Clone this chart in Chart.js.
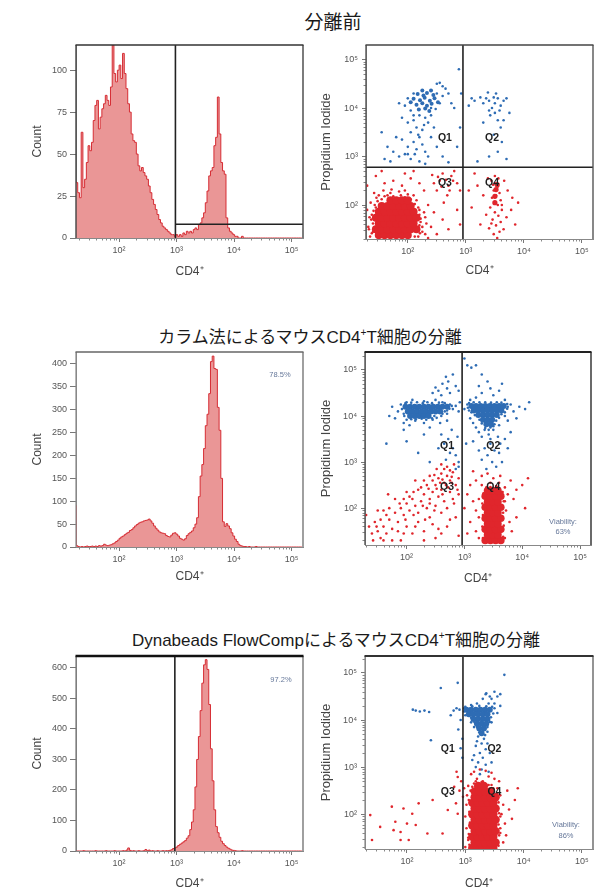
<!DOCTYPE html>
<html>
<head>
<meta charset="utf-8">
<script src="https://cdn.jsdelivr.net/npm/chart.js@4.4.1/dist/chart.umd.min.js"></script>
<style>
  body { margin: 0; background: #fff; width: 605px; height: 893px; position: relative; overflow: hidden; }
  canvas { position: absolute; }
  .ttl { position: absolute; transform: translateX(-50%); white-space: nowrap; line-height: 1.2;
         font-family: "Liberation Sans", "Noto Sans CJK JP", sans-serif; color: #1a1a1a; }
  .ttl sup { font-size: 0.6em; vertical-align: 0.7em; line-height: 0; }
</style>
</head>
<body>
<div class="ttl" style="left:333px;top:10px;font-size:19px;font-family:'Noto Sans CJK JP'">分離前</div>
<div class="ttl" style="left:310px;top:328px;font-size:17px">カラム法によるマウスCD4<sup>+</sup>T細胞の分離</div>
<div class="ttl" style="left:336px;top:631px;font-size:17px">Dynabeads FlowCompによるマウスCD4<sup>+</sup>T細胞の分離</div>

<canvas id="h1" width="310" height="250" style="left:0;top:30px"></canvas>
<canvas id="s1" width="305" height="249" style="left:300px;top:30px"></canvas>
<canvas id="h2" width="310" height="245" style="left:0;top:340px"></canvas>
<canvas id="s2" width="305" height="247" style="left:300px;top:340px"></canvas>
<canvas id="h3" width="310" height="252" style="left:0;top:640px"></canvas>
<canvas id="s3" width="305" height="252" style="left:300px;top:640px"></canvas>

<script>
// ---- axis ticks (log10 units) ----
const decadeTicks = [2, 3, 4, 5];
const decadeLabels = ['10²', '10³', '10⁴', '10⁵'];

// ---- histogram bins (log10 CD4 intensity) ----
const BIN_START = 1.25;
const BIN_WIDTH = 0.03;

const hist1YTicks = [0, 25, 50, 75, 100];
const hist1Counts = [
  34, 33, 27, 24, 63, 30, 35, 45, 55, 52,
  57, 70, 79, 82, 65, 72, 77, 80, 85, 82,
  79, 90, 115, 98, 93, 100, 103, 95, 110, 98,
  89, 80, 75, 62, 58, 57, 50, 43, 40, 42,
  39, 37, 35, 31, 27, 23, 20, 17, 14, 11,
  9, 7, 6, 5, 4, 3, 2, 2, 1, 2,
  1, 2, 1, 3, 2, 4, 3, 4, 3, 5,
  6, 5, 8, 9, 12, 15, 21, 28, 37, 40,
  42, 55, 60, 84, 62, 45, 40, 38, 12, 6,
  4, 3, 2, 1, 1, 0, 0, 1, 0, 0,
  0, 0, 0, 0, 0, 0, 0, 0, 0, 0,
  0, 0, 0, 0, 0, 0, 0, 0, 0, 0,
  0, 0, 0, 0, 0, 0, 0, 0, 0, 0,
  0, 0
];

const hist2YTicks = [0, 50, 100, 150, 200, 250, 300, 350, 400];
const hist2Counts = [
  91, 3, 1, 0, 1, 0, 1, 2, 1, 1,
  2, 1, 2, 1, 3, 2, 3, 6, 4, 3,
  4, 5, 7, 9, 12, 15, 19, 22, 24, 27,
  30, 32, 36, 38, 42, 46, 49, 52, 54, 55,
  57, 58, 59, 61, 57, 52, 46, 41, 37, 33,
  31, 30, 29, 25, 23, 22, 26, 30, 31, 28,
  24, 19, 17, 15, 18, 25, 29, 32, 35, 42,
  50, 64, 110, 155, 180, 215, 265, 290, 335, 405,
  417, 390, 388, 305, 255, 150, 55, 45, 51, 46,
  40, 31, 24, 17, 12, 6, 3, 2, 1, 1,
  0, 1, 0, 0, 0, 1, 0, 0, 0, 0,
  0, 0, 0, 0, 0, 0, 0, 0, 0, 0,
  0, 0, 0, 0, 0, 0, 0, 0, 0, 0,
  0, 0
];

const hist3YTicks = [0, 100, 200, 300, 400, 500, 600];
const hist3Counts = [
  0, 0, 0, 0, 0, 1, 0, 0, 0, 0,
  0, 0, 1, 0, 0, 0, 0, 0, 1, 0,
  0, 0, 0, 1, 0, 0, 0, 0, 1, 0,
  3, 10, 2, 0, 1, 0, 0, 1, 0, 0,
  1, 5, 1, 3, 0, 1, 0, 0, 1, 0,
  0, 1, 0, 1, 1, 2, 4, 8, 10, 13,
  18, 22, 26, 30, 34, 42, 50, 70, 95, 135,
  210, 300, 375, 460, 550, 610, 627, 595, 480, 335,
  230, 135, 80, 60, 45, 32, 24, 18, 13, 9,
  6, 3, 2, 1, 0, 0, 0, 1, 0, 0,
  0, 0, 0, 0, 0, 0, 0, 0, 0, 0,
  0, 0, 0, 0, 0, 0, 0, 0, 0, 0,
  0, 0, 0, 0, 0, 0, 0, 0, 0, 0,
  0, 0
];

// ---- scatter events: [log10 CD4, log10 Propidium Iodide] ----
// before separation
const s1RedCore = [
  [1.50,1.38],[1.60,1.38],[1.70,1.38],[1.80,1.38],[1.90,1.38],[2.00,1.38],
  [1.45,1.50],[1.55,1.50],[1.65,1.50],[1.75,1.50],[1.85,1.50],[1.95,1.50],[2.05,1.50],[2.15,1.50],
  [1.50,1.62],[1.60,1.62],[1.70,1.62],[1.80,1.62],[1.90,1.62],[2.00,1.62],[2.10,1.62],
  [1.45,1.74],[1.55,1.74],[1.65,1.74],[1.75,1.74],[1.85,1.74],[1.95,1.74],[2.05,1.74],[2.15,1.74],
  [1.50,1.86],[1.60,1.86],[1.70,1.86],[1.80,1.86],[1.90,1.86],[2.00,1.86],[2.10,1.86],
  [1.55,1.98],[1.65,1.98],[1.75,1.98],[1.85,1.98],[1.95,1.98],[2.05,1.98],
  [1.70,2.10],[1.80,2.10],[1.90,2.10],[2.00,2.10]
];
const s1RedMid = [[3.52,2.32],[3.50,2.18],[3.54,2.42],[3.50,2.05]];
const s1RedDots = [
  [1.35,1.35],[1.32,1.55],[1.38,1.80],[1.36,2.05],[1.42,2.25],[1.40,1.45],[1.45,1.95],[1.50,2.20],
  [1.58,2.30],[1.70,2.25],[1.85,2.28],[2.00,2.22],[2.15,2.10],[2.20,1.90],[2.22,1.65],[2.25,1.45],
  [2.18,1.35],[2.30,1.75],[2.35,2.00],[2.28,2.30],[2.40,1.55],[2.45,1.85],[1.60,2.45],[1.75,2.50],
  [1.90,2.40],[2.05,2.55],[2.20,2.45],[1.45,2.60],[1.55,2.70],[1.95,2.65],[2.10,2.70],[2.50,2.30],
  [2.55,2.50],[2.60,2.65],[2.42,2.62],[2.70,2.40],[2.75,2.60],[2.80,2.70],[2.68,2.20],[2.85,2.45],
  [2.90,2.30],[2.62,2.05],[2.50,1.40],[2.60,1.70],[2.70,1.50],[2.85,1.90],[2.90,1.60],[2.35,1.32],
  [1.30,1.90],[1.30,2.40],[2.52,2.58],[2.66,2.52],[2.72,2.30],[2.58,2.38],[2.45,2.45],[2.78,2.50],
  [1.38,1.42],[1.40,1.62],[1.37,1.70],[1.41,1.88],[1.43,2.00],[1.48,2.08],[1.55,2.12],[1.60,2.18],
  [1.65,2.20],[1.75,2.18],[1.88,2.20],[1.95,2.16],[2.05,2.12],[2.12,2.02],[2.18,1.95],[2.20,1.80],
  [2.22,1.72],[2.20,1.58],[2.21,1.42],[2.12,1.35],[2.25,1.55],[2.28,1.85],[2.32,1.62],[2.30,1.40],
  [1.34,1.75],[1.33,1.50],[1.46,2.15],[2.10,2.20],[1.72,2.32],[1.95,2.30],
  [3.50,2.45],[3.55,2.38],[3.48,2.30],[3.58,2.25],[3.52,2.20],[3.45,2.15],[3.60,2.10],[3.50,2.05],
  [3.55,2.00],[3.42,1.95],[3.62,1.90],[3.50,1.85],[3.56,1.78],[3.46,1.70],[3.60,1.65],[3.52,1.58],
  [3.40,1.52],[3.58,1.45],[3.48,1.40],[3.65,1.50],[3.35,1.80],[3.70,1.75],[3.30,2.20],[3.72,2.30],
  [3.38,2.55],[3.66,2.50],[3.25,1.60],[3.78,1.90],[3.20,2.40],[3.80,2.15],[3.10,1.95],[3.15,2.65],
  [3.50,2.60],[3.44,2.50],[3.56,2.55],[3.62,2.00],[3.53,2.32],[3.47,2.42],[3.85,1.60],[3.05,2.30],
  [3.90,2.05],[3.54,1.32],[3.44,1.62]
];
const s1BlueCore = [
  [2.17,4.29],[2.27,4.26],[2.33,4.31],[2.44,4.27],[2.10,4.19],[2.21,4.16],[2.29,4.21],[2.38,4.15],
  [2.46,4.20],[2.15,4.07],[2.25,4.10],[2.33,4.05],[2.41,4.09],[2.19,3.97],[2.30,3.99],[2.37,3.94],
  [2.52,4.12],[2.05,4.12],[2.25,4.36],[2.40,4.36]
];
const s1BlueDots = [
  [2.00,4.20],[1.95,4.05],[2.05,3.95],[2.10,4.30],[2.50,4.30],[2.55,4.10],[2.60,4.25],[2.48,3.98],
  [2.20,3.85],[2.10,3.75],[2.30,3.80],[2.40,3.85],[2.60,4.45],[2.65,4.40],[2.50,4.50],[2.55,4.52],
  [2.70,4.30],[2.75,4.10],[2.80,4.00],[2.15,3.60],[2.05,3.50],[2.25,3.55],[2.20,3.40],[2.10,3.30],
  [2.00,3.20],[1.90,3.35],[2.15,3.15],[2.25,3.25],[2.30,3.10],[1.95,3.05],[2.05,2.95],[1.85,3.00],
  [2.20,2.90],[2.35,3.00],[1.75,3.10],[1.70,2.90],[1.60,2.95],[1.65,3.20],[1.80,3.40],[1.55,3.50],
  [2.40,3.40],[2.45,3.60],[2.50,3.20],[2.60,3.00],[2.70,2.88],[2.85,3.20],[2.90,3.60],[2.92,4.30],
  [2.88,4.80],[2.00,3.70],[1.90,3.80],[2.35,3.70],[1.85,4.10],[2.10,3.85],[2.40,4.00],[2.28,3.65],
  [2.18,3.45],[2.12,3.05],[2.00,3.05],[2.30,2.85],
  [3.40,4.15],[3.50,4.10],[3.45,4.00],[3.55,4.20],[3.35,4.20],[3.60,4.05],[3.50,3.90],[3.42,3.85],
  [3.58,3.95],[3.65,4.15],[3.30,4.10],[3.25,4.22],[3.10,4.20],[3.15,4.15],[3.70,4.20],[3.55,3.75],
  [3.60,3.60],[3.48,3.45],[3.62,3.30],[3.55,3.10],[3.40,3.00],[3.20,2.90],[3.70,2.95],[3.05,4.05],
  [3.75,3.90],[3.52,4.30],[3.38,4.32],[3.48,4.22],[3.40,3.95],[3.30,3.70],[3.65,3.75]
];

// column-based separation
const s2RedCore = [
  [3.36,1.30],[3.45,1.30],[3.54,1.30],[3.63,1.30],
  [3.40,1.42],[3.49,1.42],[3.58,1.42],
  [3.36,1.54],[3.45,1.54],[3.54,1.54],[3.63,1.54],
  [3.40,1.66],[3.49,1.66],[3.58,1.66],
  [3.36,1.78],[3.45,1.78],[3.54,1.78],[3.63,1.78],
  [3.40,1.90],[3.49,1.90],[3.58,1.90],
  [3.36,2.02],[3.45,2.02],[3.54,2.02],[3.63,2.02],
  [3.40,2.14],[3.49,2.14],[3.58,2.14],
  [3.36,2.26],[3.45,2.26],[3.54,2.26],[3.63,2.26],
  [3.40,2.38],[3.49,2.38],[3.58,2.38]
];
const s2RedDots = [
  [2.60,2.75],[2.70,2.70],[2.75,2.60],[2.80,2.78],[2.65,2.55],[2.55,2.65],[2.50,2.50],[2.60,2.40],
  [2.72,2.45],[2.85,2.50],[2.90,2.65],[2.45,2.35],[2.35,2.50],[2.40,2.20],[2.55,2.25],[2.30,2.30],
  [2.20,2.40],[2.25,2.15],[2.10,2.20],[2.15,2.05],[2.00,2.10],[2.05,1.95],[1.90,2.00],[1.95,1.85],
  [2.20,1.90],[2.35,2.00],[2.50,2.05],[2.65,2.15],[2.80,2.20],[2.90,2.30],[1.80,1.90],[1.85,1.70],
  [1.70,1.75],[1.75,1.55],[1.60,1.60],[1.65,1.45],[1.50,1.50],[1.55,1.35],[1.45,1.70],[1.40,1.45],
  [1.35,1.60],[1.30,1.85],[2.00,1.60],[2.20,1.70],[2.40,1.80],[2.60,1.90],[2.10,1.45],[2.30,1.50],
  [1.90,1.30],[2.70,1.60],[2.85,1.80],[2.50,1.35],[2.00,2.35],[1.80,2.20],[2.45,2.60],[2.70,2.90],
  [2.60,2.95],[2.82,2.95],[2.40,2.70],[2.15,2.60],[1.60,1.95],[2.75,2.35],[2.55,1.55],[2.30,1.30],
  [1.75,1.30],[2.90,1.40],[2.62,2.62],[2.68,2.50],[2.52,2.42],[2.78,2.68],[2.58,2.55],[2.48,2.72],
  [2.30,2.60],[2.25,2.45],[2.12,2.35],[2.05,2.25],[1.95,2.20],[1.88,2.10],[1.70,2.00],[1.65,1.85],
  [1.55,1.75],[1.48,1.60],[1.42,1.30],[1.60,1.30],[1.85,1.50],[1.98,1.75],[2.12,1.85],[2.28,2.05],
  [2.40,2.10],[2.62,2.30],[2.78,2.55],[2.88,2.40],[2.82,2.10],[2.70,2.00],[2.48,1.95],[2.32,1.75],
  [2.15,1.60],[1.95,1.45],[2.60,1.45],[2.75,1.75],[2.45,1.65],[1.68,2.30],[1.50,1.95],[2.38,2.42],
  [2.65,2.85],[2.52,2.85],[2.75,2.82],
  [3.32,1.35],[3.31,1.60],[3.32,1.85],[3.31,2.10],[3.33,2.32],[3.67,1.38],[3.68,1.62],[3.67,1.90],
  [3.68,2.15],[3.66,2.35],[3.45,2.46],[3.55,2.48],[3.38,2.45],
  [3.10,2.50],[3.20,2.60],[3.30,2.70],[3.40,2.75],[3.50,2.65],[3.60,2.55],[3.70,2.45],[3.75,2.30],
  [3.80,2.60],[3.85,2.20],[3.90,2.40],[4.00,2.50],[4.10,2.65],[3.05,2.30],[3.15,2.15],[3.20,1.95],
  [3.25,1.80],[3.10,1.70],[3.20,1.50],[3.25,1.35],[3.72,1.95],[3.78,1.70],[3.82,1.50],[3.70,1.35],
  [3.90,1.80],[4.05,2.00],[3.00,2.00],[3.05,1.45],[3.30,2.50],[3.65,2.35],[3.25,2.20],[3.70,2.15],
  [3.45,2.55],[3.58,2.45],[3.15,2.80],[3.62,2.70]
];
const s2BlueCore = [
  [1.98,4.20],[2.06,4.20],[2.14,4.20],[2.22,4.20],[2.30,4.20],[2.38,4.20],[2.46,4.20],[2.54,4.20],[2.62,4.20],[2.70,4.20],
  [2.02,4.10],[2.10,4.10],[2.18,4.10],[2.26,4.10],[2.34,4.10],[2.42,4.10],[2.50,4.10],[2.58,4.10],
  [2.06,4.00],[2.14,4.00],[2.22,4.00],[2.30,4.00],[2.38,4.00],
  [3.12,4.22],[3.20,4.22],[3.28,4.22],[3.36,4.22],[3.44,4.22],[3.52,4.22],[3.60,4.22],[3.68,4.22],
  [3.16,4.12],[3.24,4.12],[3.32,4.12],[3.40,4.12],[3.48,4.12],[3.56,4.12],[3.64,4.12],
  [3.24,4.02],[3.32,4.02],[3.40,4.02],[3.48,4.02],[3.56,4.02],
  [3.32,3.92],[3.40,3.92],[3.48,3.92],
  [3.38,3.82],[3.46,3.82]
];
const s2BlueDots = [
  [1.92,4.15],[1.95,4.05],[1.98,4.28],[2.08,4.29],[2.18,4.30],[2.28,4.28],[2.36,4.30],[2.44,4.28],
  [2.56,4.29],[2.66,4.28],[2.74,4.16],[2.78,4.22],[2.66,4.10],[2.62,4.05],[2.48,4.00],[2.44,3.95],
  [2.34,3.92],[2.26,3.94],[2.16,3.93],[2.08,3.93],[2.00,3.92],[1.96,4.00],[2.52,3.96],[2.70,4.12],
  [3.06,4.18],[3.08,4.28],[3.16,4.30],[3.26,4.30],[3.36,4.30],[3.46,4.29],[3.56,4.30],[3.64,4.29],
  [3.74,4.26],[3.74,4.16],[3.70,4.08],[3.64,4.04],[3.60,3.96],[3.55,3.90],[3.52,3.82],[3.45,3.75],
  [3.36,3.74],[3.30,3.84],[3.26,3.92],[3.18,4.02],[3.12,4.08],[3.08,4.12],[3.50,3.78],[3.42,3.70],
  [1.85,4.10],[1.90,4.25],[1.80,3.95],[1.95,3.85],[2.05,3.80],[2.15,3.90],[2.30,3.85],[2.45,3.92],
  [2.60,4.00],[2.70,4.05],[2.75,4.25],[2.80,4.15],[2.85,4.22],[2.90,4.10],[2.92,4.30],[2.70,3.90],
  [2.58,3.85],[2.10,4.35],[2.30,4.32],[2.50,4.35],[2.62,4.30],[2.00,4.30],[1.75,4.20],[1.70,4.00],
  [1.95,3.70],[2.40,3.75],[2.55,4.55],[2.62,4.70],[2.70,4.60],[2.75,4.50],[2.85,4.65],[2.68,4.85],
  [2.80,4.90],[2.60,4.45],[2.45,4.50],[2.90,4.55],[2.72,4.75],[2.50,4.62],[2.60,3.60],[2.65,3.40],
  [2.72,3.50],[2.80,3.30],[2.85,3.15],[2.90,3.00],[2.75,3.20],[2.68,3.05],[2.85,2.85],[2.90,2.90],
  [2.55,3.30],[2.30,3.60],[1.65,3.40],[2.00,3.45],[2.20,3.20],[2.40,3.00],[2.78,3.70],[2.88,3.55],
  [3.05,4.25],[3.00,4.15],[3.75,4.20],[3.80,4.25],[3.85,4.10],[3.95,4.20],[4.05,4.15],[4.12,4.30],
  [3.70,4.35],[3.10,4.35],[3.20,4.40],[3.30,4.50],[3.45,4.60],[3.50,4.45],[3.60,4.55],[3.65,4.70],
  [3.40,4.75],[3.30,4.90],[3.12,5.05],[3.20,5.10],[3.25,4.65],[3.75,3.90],[3.70,4.00],[3.10,3.95],
  [3.15,3.85],[3.20,3.75],[3.25,3.65],[3.30,3.55],[3.42,3.60],[3.50,3.70],[3.58,3.55],[3.62,3.40],
  [3.45,3.40],[3.35,3.30],[3.52,3.25],[3.40,3.15],[3.60,3.20],[3.30,3.05],[3.48,3.00],[3.55,2.90],
  [3.38,2.85],[3.70,3.50],[3.75,3.30],[3.65,3.00],[3.25,3.25],[3.15,3.45],[3.80,3.65],[3.45,3.50],
  [3.35,3.70],[3.60,3.80],[3.90,3.95],[3.03,3.40],[3.00,5.25],[3.05,5.10]
];

// Dynabeads FlowComp separation
const s3RedCore = [
  [3.12,1.28],[3.21,1.28],[3.30,1.28],[3.39,1.28],[3.48,1.28],
  [3.16,1.40],[3.25,1.40],[3.34,1.40],[3.43,1.40],[3.52,1.40],
  [3.12,1.52],[3.21,1.52],[3.30,1.52],[3.39,1.52],[3.48,1.52],
  [3.16,1.64],[3.25,1.64],[3.34,1.64],[3.43,1.64],[3.52,1.64],
  [3.12,1.76],[3.21,1.76],[3.30,1.76],[3.39,1.76],[3.48,1.76],
  [3.16,1.88],[3.25,1.88],[3.34,1.88],[3.43,1.88],[3.52,1.88],
  [3.12,2.00],[3.21,2.00],[3.30,2.00],[3.39,2.00],[3.48,2.00],
  [3.16,2.12],[3.25,2.12],[3.34,2.12],[3.43,2.12],[3.52,2.12],
  [3.12,2.24],[3.21,2.24],[3.30,2.24],[3.39,2.24],[3.48,2.24],
  [3.16,2.36],[3.25,2.36],[3.34,2.36],[3.43,2.36],[3.52,2.36],
  [3.16,2.48],[3.25,2.48],[3.34,2.48],[3.43,2.48],
  [3.22,2.60],[3.32,2.60]
];
const s3RedDots = [
  [3.07,1.35],[3.06,1.58],[3.08,1.82],[3.07,2.05],[3.06,2.30],[3.09,2.50],[3.57,1.33],[3.58,1.55],
  [3.57,1.78],[3.58,2.02],[3.57,2.25],[3.55,2.45],[3.12,2.58],[3.28,2.68],[3.40,2.62],[3.48,2.55],
  [3.18,2.70],[3.05,1.45],[3.60,1.95],[3.60,1.70],
  [3.05,2.60],[3.15,2.65],[3.30,2.70],[3.45,2.62],[3.55,2.55],[3.60,2.40],[3.65,2.20],[3.62,2.00],
  [3.68,1.80],[3.60,1.60],[3.65,1.40],[3.03,2.40],[3.02,2.20],[3.00,1.95],[3.02,1.70],[3.05,1.50],
  [3.00,1.30],[3.20,2.75],[3.40,2.80],[3.10,2.85],[3.50,2.75],[3.72,2.50],[3.75,2.10],[3.80,1.90],
  [3.70,1.55],[3.85,2.30],[3.90,2.55],[2.98,2.55],[3.25,2.60],[3.58,2.70],[3.15,2.90],[3.25,2.95],
  [3.35,2.92],[3.45,2.88],
  [1.40,1.45],[1.54,1.73],[1.74,2.16],[1.80,1.84],[1.89,1.62],[1.94,2.12],[2.00,1.80],[2.09,2.01],
  [2.15,1.77],[2.20,2.23],[2.35,1.59],[2.44,2.30],[2.61,1.59],[2.70,2.09],[2.84,2.23],[2.87,2.01],
  [1.89,1.45],[2.03,1.45],[1.77,1.66],[1.37,1.98],[2.81,2.58],[2.87,2.79],[2.96,2.37],[2.90,2.50],
  [2.93,2.70],[2.85,2.90]
];
const s3BlueCore = [
  [3.02,4.22],[3.10,4.22],[3.18,4.22],[3.26,4.22],[3.34,4.22],[3.42,4.22],
  [3.06,4.12],[3.14,4.12],[3.22,4.12],[3.30,4.12],[3.38,4.12],
  [3.14,4.02],[3.22,4.02],[3.30,4.02],[3.38,4.02],
  [3.20,3.92],[3.28,3.92],[3.36,3.92],
  [3.24,3.82],[3.32,3.82],
  [3.28,3.72]
];
const s3BlueDots = [
  [2.98,4.18],[3.00,4.28],[3.12,4.29],[3.24,4.30],[3.36,4.29],[3.46,4.28],[3.48,4.14],[3.44,4.06],
  [3.42,3.96],[3.38,3.85],[3.16,3.95],[3.10,4.05],[3.20,3.85],[3.24,3.74],[3.34,3.68],
  [2.98,4.25],[3.00,4.10],[3.50,4.25],[3.55,4.15],[3.60,4.30],[3.50,4.35],[3.40,4.35],[3.20,4.35],
  [3.10,4.32],[3.45,4.45],[3.35,4.55],[3.50,4.60],[3.55,4.50],[3.30,4.45],[3.60,4.55],[3.45,3.95],
  [3.15,3.85],[3.10,3.95],[3.38,3.75],[3.22,3.65],[3.32,3.60],[3.28,3.50],[3.18,3.45],[3.35,3.38],
  [3.25,3.30],[3.15,3.25],[3.30,3.20],[3.22,3.10],[3.35,3.05],[3.28,2.95],[3.18,3.00],[3.40,2.90],
  [3.25,2.85],[3.12,3.15],[3.38,3.50],[3.42,3.30],[3.20,3.55],[3.45,3.10],
  [2.10,4.22],[2.15,4.20],[2.22,4.18],[2.30,4.20],[2.38,4.17],[2.85,4.25],[2.90,4.22],[2.80,4.20],
  [2.75,4.10],[2.92,4.00],[2.88,3.80],[2.95,3.60],
  [2.58,4.68],[2.87,4.79],[3.67,4.96],[3.36,4.57],[2.41,3.57],[3.42,4.50],[2.95,3.20],[2.92,3.40]
];

const RED = 'rgb(224,38,44)';
const BLUE = 'rgb(46,108,180)';

// ---- drawing helpers ----
Chart.defaults.font.family = "'Liberation Sans', Arial, sans-serif";
Chart.defaults.animation = false;

function minorTickValues(min, max) {
  const out = [];
  for (let n = Math.floor(min); n <= Math.ceil(max); n++) {
    for (let k = 2; k <= 9; k++) {
      const v = n + Math.log10(k);
      if (v > min && v < max) out.push(v);
    }
  }
  return out;
}

const overlayPlugin = {
  id: 'overlay',
  afterDraw(chart, args, opts) {
    const { ctx, chartArea: a, scales: { x, y } } = chart;
    ctx.save();
    ctx.strokeStyle = '#888';
    ctx.lineWidth = 1;
    minorTickValues(x.min, x.max).forEach(v => {
      const px = Math.round(x.getPixelForValue(v)) + 0.5;
      ctx.beginPath(); ctx.moveTo(px, a.bottom); ctx.lineTo(px, a.bottom + 2.5); ctx.stroke();
    });
    if (opts.minorY) {
      minorTickValues(y.min, y.max).forEach(v => {
        const py = Math.round(y.getPixelForValue(v)) + 0.5;
        ctx.beginPath(); ctx.moveTo(a.left, py); ctx.lineTo(a.left - 2.5, py); ctx.stroke();
      });
    }

    // gates
    ctx.strokeStyle = '#222';
    ctx.lineWidth = 1.6;
    (opts.vlines || []).forEach(v => {
      const px = x.getPixelForValue(v);
      ctx.beginPath(); ctx.moveTo(px, a.top); ctx.lineTo(px, a.bottom); ctx.stroke();
    });
    if (opts.hline) {
      const py = y.getPixelForValue(opts.hline.y);
      ctx.beginPath(); ctx.moveTo(x.getPixelForValue(opts.hline.from), py); ctx.lineTo(a.right, py); ctx.stroke();
    }

    // frame
    const f = opts.frame;
    const side = (s, x0, y0, x1, y1) => {
      ctx.strokeStyle = s[0]; ctx.lineWidth = s[1];
      ctx.beginPath(); ctx.moveTo(x0, y0); ctx.lineTo(x1, y1); ctx.stroke();
    };
    side(f.left, a.left, a.top, a.left, a.bottom);
    side(f.right, a.right, a.top, a.right, a.bottom);
    side(f.top, a.left - 0.5, a.top, a.right + 0.5, a.top);

    // quadrant labels
    ctx.fillStyle = '#1e1e1e';
    ctx.font = "bold 10.5px 'Liberation Sans', Arial, sans-serif";
    ctx.textAlign = 'center';
    ctx.textBaseline = 'middle';
    (opts.labels || []).forEach(l => {
      ctx.fillText(l.text, x.getPixelForValue(l.x), y.getPixelForValue(l.y));
    });

    // notes (percentages)
    ctx.fillStyle = '#66789a';
    ctx.font = "7.5px 'Liberation Sans', Arial, sans-serif";
    (opts.notes || []).forEach(n => {
      const py = n.fromBottom ? a.bottom + n.dy : a.top + n.dy;
      ctx.fillText(n.text, a.right + n.dx, py);
    });
    ctx.restore();
  }
};
Chart.register(overlayPlugin);

function xAxis(min, max, height) {
  return {
    type: 'linear', min, max,
    afterFit: s => { s.height = height; },
    afterBuildTicks: s => { s.ticks = decadeTicks.map(v => ({ value: v })); },
    ticks: {
      callback: v => decadeLabels[decadeTicks.indexOf(v)],
      color: '#555', font: { size: 9 }, padding: 3, maxRotation: 0, autoSkip: false
    },
    grid: { drawOnChartArea: false, tickLength: 4, tickColor: '#777' },
    border: { color: '#888', width: 1 },
    title: { display: true, text: 'CD4⁺', color: '#444', font: { size: 12 }, padding: { top: 0, bottom: 1.5 } }
  };
}

function makeHist(id, counts, yTicks, yMax, pad, xHeight, overlay) {
  const pts = counts.map((c, i) => ({ x: BIN_START + i * BIN_WIDTH, y: c }));
  new Chart(document.getElementById(id), {
    type: 'line',
    data: {
      datasets: [{
        data: pts, stepped: 'after', fill: 'origin',
        backgroundColor: 'rgb(234,150,150)', borderColor: 'rgb(214,45,52)',
        borderWidth: 1, pointRadius: 0
      }]
    },
    options: {
      responsive: false, devicePixelRatio: 1,
      layout: { padding: { top: pad.top, right: pad.right, left: 0, bottom: 0 } },
      plugins: { legend: { display: false }, tooltip: { enabled: false }, overlay },
      scales: {
        x: xAxis(1.25, 5.2, xHeight),
        y: {
          type: 'linear', min: 0, max: yMax,
          afterFit: s => { s.width = 76; },
          afterBuildTicks: s => { s.ticks = yTicks.map(v => ({ value: v })); },
          ticks: { color: '#555', font: { size: 9 }, padding: 3 },
          grid: { drawOnChartArea: false, tickLength: 6, tickColor: '#777' },
          border: { color: '#888', width: 1 },
          title: { display: true, text: 'Count', color: '#444', font: { size: 12 }, padding: { top: 30, bottom: 0 } }
        }
      }
    }
  });
}

function makeScatter(id, sets, yMin, yMax, pad, yWidth, xHeight, overlay) {
  new Chart(document.getElementById(id), {
    type: 'scatter',
    data: {
      datasets: sets.map(s => ({
        data: s.pts.map(([x, y]) => ({ x, y })),
        backgroundColor: s.color, borderWidth: 0,
        pointRadius: s.r, pointHoverRadius: s.r
      }))
    },
    options: {
      responsive: false, devicePixelRatio: 1,
      layout: { padding: { top: pad.top, right: pad.right, left: 0, bottom: 0 } },
      plugins: { legend: { display: false }, tooltip: { enabled: false }, overlay },
      scales: {
        x: xAxis(1.28, 5.19, xHeight),
        y: {
          type: 'linear', min: yMin, max: yMax,
          afterFit: s => { s.width = yWidth; },
          afterBuildTicks: s => { s.ticks = decadeTicks.map(v => ({ value: v })); },
          ticks: { callback: v => decadeLabels[decadeTicks.indexOf(v)], color: '#555', font: { size: 9 }, padding: 4 },
          grid: { drawOnChartArea: false, tickLength: 4, tickColor: '#777' },
          border: { color: '#888', width: 1 },
          title: { display: true, text: 'Propidium Iodide', color: '#444', font: { size: 13 }, padding: { top: 19, bottom: 0 } }
        }
      }
    }
  });
}

const quad = (x1, x2, y1, y2) => [
  { text: 'Q1', x: x1, y: y1 }, { text: 'Q2', x: x2, y: y1 },
  { text: 'Q3', x: x1, y: y2 }, { text: 'Q4', x: x2, y: y2 }
];

// ---- row 1: before separation ----
makeHist('h1', hist1Counts, hist1YTicks, 115, { top: 15, right: 7 }, 42, {
  frame: { top: ['#333', 1.6], left: ['#444', 1.4], right: ['#444', 1.4] },
  vlines: [2.98], hline: { y: 8.2, from: 2.98 }
});
makeScatter('s1', [
  { pts: s1RedCore, color: RED, r: 4 },
  { pts: s1RedMid, color: RED, r: 2.6 },
  { pts: s1RedDots, color: RED, r: 1.3 },
  { pts: s1BlueCore, color: BLUE, r: 2 },
  { pts: s1BlueDots, color: BLUE, r: 1.3 }
], 1.3, 5.3, { top: 15, right: 12 }, 66, 40, {
  minorY: true,
  frame: { top: ['#444', 1.6], left: ['#555', 1.4], right: ['#555', 1.4] },
  vlines: [2.95], hline: { y: 2.78, from: 1.28 },
  labels: quad(2.64, 3.45, 3.38, 2.45)
});

// ---- row 2: column method ----
makeHist('h2', hist2Counts, hist2YTicks, 426, { top: 12, right: 7 }, 38, {
  frame: { top: ['#666', 1.6], left: ['#888', 1.2], right: ['#777', 1.4] },
  notes: [{ text: '78.5%', dx: -23, dy: 23 }]
});
makeScatter('s2', [
  { pts: s2RedCore, color: RED, r: 3.8 },
  { pts: s2RedDots, color: RED, r: 1.3 },
  { pts: s2BlueCore, color: BLUE, r: 3 },
  { pts: s2BlueDots, color: BLUE, r: 1.3 }
], 1.2, 5.39, { top: 12, right: 14 }, 65, 42, {
  minorY: true,
  frame: { top: ['#222', 2.2], left: ['#555', 1.4], right: ['#444', 1.6] },
  vlines: [2.96],
  labels: quad(2.70, 3.50, 3.35, 2.46),
  notes: [{ text: 'Viability:', dx: -28, dy: -23, fromBottom: true }, { text: '63%', dx: -28, dy: -13, fromBottom: true }]
});

// ---- row 3: Dynabeads FlowComp ----
makeHist('h3', hist3Counts, hist3YTicks, 639, { top: 16, right: 7 }, 41, {
  frame: { top: ['#111', 2.6], left: ['#777', 1.2], right: ['#777', 1.4] },
  vlines: [2.97],
  notes: [{ text: '97.2%', dx: -22, dy: 24 }]
});
makeScatter('s3', [
  { pts: s3RedCore, color: RED, r: 4.2 },
  { pts: s3RedDots, color: RED, r: 1.3 },
  { pts: s3BlueCore, color: BLUE, r: 3 },
  { pts: s3BlueDots, color: BLUE, r: 1.3 }
], 1.26, 5.36, { top: 16, right: 12 }, 65, 43, {
  minorY: true,
  frame: { top: ['#333', 2.2], left: ['#888', 1.2], right: ['#666', 1.4] },
  vlines: [2.96],
  labels: quad(2.70, 3.50, 3.38, 2.47),
  notes: [{ text: 'Viability:', dx: -27, dy: -24, fromBottom: true }, { text: '86%', dx: -27, dy: -13, fromBottom: true }]
});
</script>
</body>
</html>
